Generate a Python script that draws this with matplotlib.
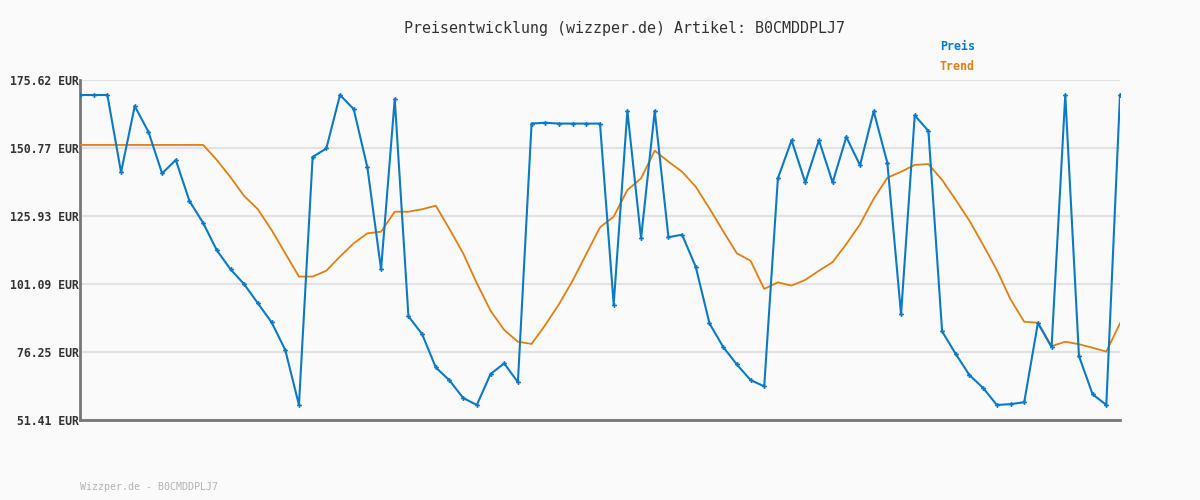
#!/usr/bin/env python3
"""Preisentwicklung chart for article B0CMDDPLJ7."""
import matplotlib
matplotlib.use('Agg')
import matplotlib.pyplot as plt

# price readings (EUR), one per sample
preis = [
    170.14, 170.14, 170.14, 141.9, 166.1, 156.7, 141.5, 146.4, 131.4, 123.4,
    113.4, 106.45, 101.0, 94.05, 87.1, 77.0, 56.9, 147.5, 150.6, 170.14,
    165.0, 143.7, 106.45, 168.7, 89.3, 82.8, 70.6, 65.9, 59.45, 56.9,
    68.2, 72.1, 65.2, 159.7, 160.0, 159.7, 159.7, 159.7, 159.7, 93.6,
    164.3, 117.8, 164.3, 118.2, 119.1, 107.3, 86.7, 78.1, 71.7, 66.0,
    63.7, 139.7, 153.6, 138.2, 153.6, 138.2, 154.8, 144.45, 164.2, 145.3,
    90.0, 162.7, 157.0, 83.8, 75.5, 67.8, 63.1, 56.9, 57.2, 57.9,
    86.85, 78.0, 170.14, 74.8, 60.8, 56.9, 170.14,
]

trend = [
    151.9, 151.9, 151.9, 151.9, 151.9, 151.9, 151.9, 151.9, 151.9, 151.9,
    146.4, 140.1, 133.2, 128.4, 120.8, 112.3, 103.8, 103.8, 105.95, 111.1,
    115.95, 119.6, 120.2, 127.5, 127.5, 128.4, 129.7, 121.2, 112.3, 101.35,
    91.35, 84.3, 80.0, 79.2, 86.1, 93.7, 102.3, 112.1, 121.8, 125.7,
    135.4, 139.7, 149.8, 145.8, 142.1, 136.6, 128.7, 120.4, 112.3, 109.6,
    99.3, 101.7, 100.5, 102.6, 105.95, 109.1, 115.7, 122.9, 132.2, 139.9,
    142.1, 144.6, 144.9, 139.1, 131.8, 124.2, 115.35, 106.2, 95.5, 87.3,
    86.95, 78.4, 80.0, 79.1, 77.8, 76.4, 86.7,
]

yticks = [51.41, 76.25, 101.09, 125.93, 150.77, 175.62]
ytick_labels = ["51.41 EUR", "76.25 EUR", "101.09 EUR", "125.93 EUR", "150.77 EUR", "175.62 EUR"]

BLUE = '#0b7ac6'
ORANGE = '#e07f12'
BG = '#fafafa'
MONO = 'DejaVu Sans Mono'

fig = plt.figure(figsize=(12, 5), dpi=100, facecolor=BG)
ax = fig.add_axes([80 / 1200, 80 / 500, 1040 / 1200, 340 / 500], facecolor=BG)

x = list(range(len(preis)))
ax.plot(x, trend, color=ORANGE, linewidth=1.3, zorder=3)
ax.plot(x, preis, color=BLUE, linewidth=1.5, marker='P', markersize=3.5,
        markeredgewidth=0, zorder=4)

ax.set_xlim(0, len(preis) - 1)
ax.set_ylim(yticks[0], yticks[-1])
ax.set_yticks(yticks)
ax.set_yticklabels(ytick_labels, family=MONO, fontweight='bold', fontsize=8.3, color='#333333')
ax.set_xticks([])
ax.tick_params(axis='y', length=0, pad=1)
ax.grid(axis='y', color='#e2e2e2', linewidth=1.6, zorder=0)

for side in ('top', 'right'):
    ax.spines[side].set_visible(False)
for side in ('left', 'bottom'):
    ax.spines[side].set_color('#777777')
    ax.spines[side].set_linewidth(2)

fig.text(624 / 1200, 1 - 28 / 500, 'Preisentwicklung (wizzper.de) Artikel: B0CMDDPLJ7',
         family=MONO, fontsize=10.8, color='#333333', ha='center', va='center')
fig.text(940 / 1200, 1 - 46 / 500, 'Preis', family=MONO, fontsize=8.4,
         fontweight='bold', color=BLUE, ha='left', va='center')
fig.text(940 / 1200, 1 - 67 / 500, 'Trend', family=MONO, fontsize=8.4,
         fontweight='bold', color=ORANGE, ha='left', va='center')
fig.text(80 / 1200, 1 - 487 / 500, 'Wizzper.de - B0CMDDPLJ7', family=MONO,
         fontsize=7.2, color='#b4b4b4', ha='left', va='center')

plt.savefig('out.png', dpi=100, facecolor=BG)
